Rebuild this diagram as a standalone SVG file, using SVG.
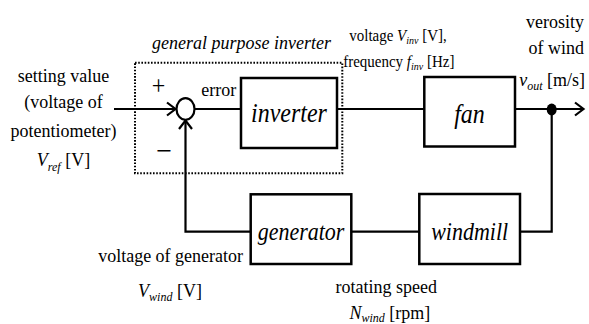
<svg xmlns="http://www.w3.org/2000/svg" width="589" height="324" viewBox="0 0 589 324">
<style>
.t { font-family: 'Liberation Serif', 'DejaVu Serif', serif; font-size: 18px; fill: #000; transform-box: fill-box; transform-origin: center; transform: scaleY(1.1); }
.m { text-anchor: middle; }
.e { text-anchor: end; }
.i { font-style: italic; }
.sub { font-size: 12px; font-style: italic; }
.sm { font-size: 15px; }
.sub2 { font-size: 10px; font-style: italic; }
.blk { font-size: 24px; font-style: italic; }
.blk2 { font-size: 22px; font-style: italic; }
.box { fill: #fff; stroke: #000; stroke-width: 2.5; }
.ln { fill: none; stroke: #000; stroke-width: 2.2; }
.dot { fill: none; stroke: #000; stroke-width: 2; stroke-dasharray: 1.6 1.6; }
</style>
<defs>
<marker id="arr" viewBox="-10 -8 12 16" markerWidth="12" markerHeight="16" refX="0" refY="0" orient="auto" markerUnits="userSpaceOnUse">
<path d="M-8.5,-6.5 L0,0 L-8.5,6.5" fill="none" stroke="#000" stroke-width="2.2"/>
</marker>
</defs>

<g id="general-purpose-inverter">
<rect class="dot" x="135" y="62.7" width="207.3" height="110.6"/>
<text class="t i m" x="241.5" y="48" font-family="Liberation Serif, serif">general purpose inverter</text>
</g>

<g id="connectors">
<line class="ln" x1="114" y1="109" x2="175.5" y2="109" marker-end="url(#arr)"/>
<line class="ln" x1="194.5" y1="109" x2="241" y2="109"/>
<line class="ln" x1="337" y1="109" x2="424.3" y2="109"/>
<line class="ln" x1="515" y1="109" x2="583.5" y2="109" marker-end="url(#arr)"/>
<polyline class="ln" points="551.7,109 551.7,231.7 520,231.7"/>
<line class="ln" x1="419.3" y1="231.7" x2="351.3" y2="231.7"/>
<polyline class="ln" points="250.7,231.7 185.5,231.7 185.5,120.5" marker-end="url(#arr)"/>
</g>

<g id="sum">
<ellipse cx="185.5" cy="109" rx="9" ry="10.8" fill="#fff" stroke="#000" stroke-width="2.2"/>
<text class="t m" x="158.5" y="94.5" style="font-size:24px">+</text>
<text class="t m" x="164" y="160.5" style="font-size:28px">−</text>
<text class="t m" x="218.7" y="95.5">error</text>
</g>

<g id="branch">
<ellipse cx="551.7" cy="109.5" rx="5" ry="6" fill="#000"/>
</g>

<g id="input">
<text class="t m" x="63.5" y="81.5">setting value</text>
<text class="t m" x="63.5" y="107">(voltage of</text>
<text class="t m" x="63.5" y="136">potentiometer)</text>
<text class="t m" x="63.5" y="166"><tspan class="i">V</tspan><tspan class="sub" dy="4">ref</tspan><tspan dy="-4"> [V]</tspan></text>
</g>

<g id="inverter">
<rect class="box" x="241" y="78" width="96" height="70"/>
<text class="t blk m" x="289" y="121.5">inverter</text>
</g>

<g id="inverter-output">
<text class="t sm m" x="398" y="40.5">voltage <tspan class="i">V</tspan><tspan class="sub2" dy="3">inv</tspan><tspan dy="-3"> [V],</tspan></text>
<text class="t sm m" x="398.8" y="66.5">frequency <tspan class="i">f</tspan><tspan class="sub2" dy="3">inv</tspan><tspan dy="-3"> [Hz]</tspan></text>
</g>

<g id="fan">
<rect class="box" x="424.3" y="77" width="90.7" height="69.5"/>
<text class="t blk m" x="469.5" y="122">fan</text>
</g>

<g id="output">
<text class="t e" x="584" y="27">verosity</text>
<text class="t e" x="584" y="53.5">of wind</text>
<text class="t e" x="585" y="85.5"><tspan class="i">v</tspan><tspan class="sub" dy="4">out</tspan><tspan dy="-4"> [m/s]</tspan></text>
</g>

<g id="generator">
<rect class="box" x="250.7" y="194.3" width="100.6" height="69.7"/>
<text class="t blk2 m" x="301" y="239">generator</text>
</g>

<g id="windmill">
<rect class="box" x="419.3" y="194" width="100.7" height="70"/>
<text class="t blk2 m" x="469.7" y="239">windmill</text>
</g>

<g id="generator-voltage">
<text class="t e" x="243" y="261.5">voltage of generator</text>
<text class="t m" x="170" y="296.5"><tspan class="i">V</tspan><tspan class="sub" dy="4">wind</tspan><tspan dy="-4"> [V]</tspan></text>
</g>

<g id="rotating-speed">
<text class="t m" x="386.2" y="292.3">rotating speed</text>
<text class="t m" x="389.8" y="318"><tspan class="i">N</tspan><tspan class="sub" dy="3">wind</tspan><tspan dy="-3"> [rpm]</tspan></text>
</g>
</svg>
